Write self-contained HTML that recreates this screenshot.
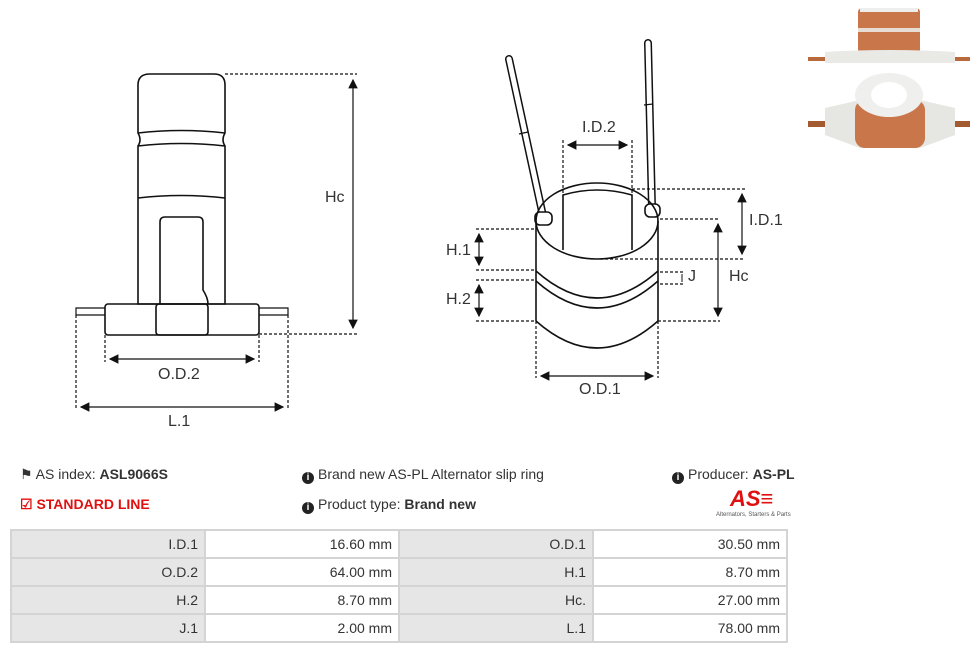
<!DOCTYPE html>
<html><head><meta charset="utf-8"><style>
body{margin:0;width:976px;height:653px;background:#fff;font-family:"Liberation Sans",sans-serif;overflow:hidden;position:relative}
.t{position:absolute;font-size:14px;color:#333;white-space:nowrap}
table{position:absolute;left:10px;top:529px;border-collapse:collapse;width:778px}
td{border:2px solid #d4d4d4;height:24px;font-size:14px;color:#333;text-align:right;padding:0 6px;width:181px}
td.g{background:#e6e6e6}
.i{display:inline-block;width:12px;height:12px;border-radius:6px;background:#222;color:#fff;font-size:10px;font-weight:bold;text-align:center;line-height:12px;vertical-align:-1px;margin-right:4px}
</style></head><body>
<svg width="976" height="450" style="position:absolute;left:0;top:0" fill="none" stroke="#111" stroke-width="1.6">
<defs>
<marker id="e" markerWidth="8" markerHeight="8" refX="7" refY="4" orient="auto"><path d="M0,0L8,4L0,8z" fill="#111" stroke="none"/></marker>
<marker id="s" markerWidth="8" markerHeight="8" refX="1" refY="4" orient="auto"><path d="M8,0L0,4L8,8z" fill="#111" stroke="none"/></marker>
</defs>
<!-- left part -->
<path d="M138,85 Q138,74 150,74 L214,74 Q225,74 225,85 L225,133 Q221,140 225,146 L225,304 L138,304 L138,146 Q142,140 138,133 Z"/>
<path d="M138,133 Q181,128 225,133 M138,146 Q181,141 225,146 M138,198 Q181,193 225,198"/>
<path d="M160,304 L160,222 Q160,217 165,217 L198,217 Q203,217 203,222 L203,290 Q208,298 208,304"/>
<rect x="105" y="304" width="154" height="31" rx="3"/>
<rect x="156" y="304" width="52" height="31" rx="3"/>
<path d="M105,308 L76,308 L76,315 L105,315 M259,308 L288,308 L288,315 L259,315" stroke-width="1.2"/>
<g stroke-dasharray="3,2" stroke-width="1.2">
<path d="M225,74 L357,74 M259,334 L357,334 M105,335 L105,362 M259,335 L259,362 M76,315 L76,410 M288,315 L288,410"/>
</g>
<g marker-start="url(#s)" marker-end="url(#e)" stroke-width="1.2">
<path d="M353,80 L353,328"/><path d="M110,359 L254,359"/><path d="M81,407 L283,407"/>
</g>
<!-- right part -->
<path d="M509,59 L543,216" stroke-width="8" stroke-linecap="round"/>
<path d="M509,59 L543,216" stroke="#fff" stroke-width="5" stroke-linecap="round"/>
<path d="M648,43 L652,208" stroke-width="8" stroke-linecap="round"/>
<path d="M648,43 L652,208" stroke="#fff" stroke-width="5" stroke-linecap="round"/>
<path d="M519,134 L528,132 M644,105 L653,104" stroke-width="1.2"/>
<rect x="535" y="212" width="17" height="13" rx="5" fill="#fff"/>
<rect x="645" y="204" width="15" height="13" rx="5" fill="#fff"/>
<ellipse cx="597" cy="221" rx="61" ry="38"/>
<path d="M563,250 L563,195 Q597,185 632,195 L632,250"/>
<path d="M536,221 L536,321 M658,221 L658,321"/>
<path d="M536,271 Q597,325 658,271 M536,281 Q597,335 658,281 M536,321 Q597,375 658,321"/>
<g stroke-dasharray="3,2" stroke-width="1.2">
<path d="M563,140 L563,195 M632,140 L632,195 M632,189 L745,189 M600,259 L745,259 M660,219 L720,219 M658,321 L720,321 M476,229 L536,229 M476,270 L536,270 M476,280 L536,280 M476,321 L536,321 M660,272 L683,272 M660,284 L683,284 M536,321 L536,378 M658,321 L658,378"/>
</g>
<g marker-start="url(#s)" marker-end="url(#e)" stroke-width="1.2">
<path d="M568,145 L627,145"/><path d="M742,194 L742,254"/><path d="M718,224 L718,316"/><path d="M479,234 L479,265"/><path d="M479,285 L479,316"/><path d="M541,376 L653,376"/>
</g>
<path d="M682,274 L682,282" stroke-width="1"/>
<!-- photo -->
<g stroke="none">
<rect x="858" y="8" width="62" height="46" rx="4" fill="#c9774a"/>
<rect x="858" y="28" width="62" height="4" fill="#e8ddd5"/>
<rect x="860" y="8" width="58" height="4" fill="#eee"/>
<path d="M808,57 L970,57 L970,61 L808,61Z" fill="#b86a3c"/>
<path d="M825,52 Q890,48 955,52 L955,63 L825,63Z" fill="#e9e9e6"/>
<path d="M808,121 L970,121 L970,127 L808,127Z" fill="#a45a30"/>
<path d="M825,108 L860,100 L920,100 L955,108 L955,135 L920,148 L860,148 L825,135Z" fill="#e6e6e2"/>
<rect x="855" y="100" width="70" height="48" rx="10" fill="#c9774a"/>
<ellipse cx="889" cy="95" rx="34" ry="22" fill="#efefed"/>
<ellipse cx="889" cy="95" rx="18" ry="13" fill="#fff"/>
</g>
</svg>
<div class="t" style="left:325px;top:189px;font-size:16px">Hc</div>
<div class="t" style="left:158px;top:366px;font-size:16px">O.D.2</div>
<div class="t" style="left:168px;top:413px;font-size:16px">L.1</div>
<div class="t" style="left:582px;top:119px;font-size:16px">I.D.2</div>
<div class="t" style="left:749px;top:212px;font-size:16px">I.D.1</div>
<div class="t" style="left:729px;top:268px;font-size:16px">Hc</div>
<div class="t" style="left:688px;top:268px;font-size:16px">J</div>
<div class="t" style="left:446px;top:242px;font-size:16px">H.1</div>
<div class="t" style="left:446px;top:291px;font-size:16px">H.2</div>
<div class="t" style="left:579px;top:381px;font-size:16px">O.D.1</div>

<div class="t" style="left:20px;top:466px">&#9873; AS index: <b>ASL9066S</b></div>
<div class="t" style="left:20px;top:496px;color:#e01010;font-weight:bold">&#9745; STANDARD LINE</div>
<div class="t" style="left:302px;top:466px"><span class="i">i</span>Brand new AS-PL Alternator slip ring</div>
<div class="t" style="left:302px;top:496px"><span class="i">i</span>Product type: <b>Brand new</b></div>
<div class="t" style="left:672px;top:466px"><span class="i">i</span>Producer: <b>AS-PL</b></div>
<div class="t" style="left:730px;top:486px;color:#e01010;font-weight:bold;font-style:italic;font-size:22px">AS&#8801;</div>
<div class="t" style="left:716px;top:512px;font-size:6px;color:#555">Alternators, Starters &amp; Parts</div>
<table>
<tr><td class="g">I.D.1</td><td>16.60 mm</td><td class="g">O.D.1</td><td>30.50 mm</td></tr>
<tr><td class="g">O.D.2</td><td>64.00 mm</td><td class="g">H.1</td><td>8.70 mm</td></tr>
<tr><td class="g">H.2</td><td>8.70 mm</td><td class="g">Hc.</td><td>27.00 mm</td></tr>
<tr><td class="g">J.1</td><td>2.00 mm</td><td class="g">L.1</td><td>78.00 mm</td></tr>
</table>
<style>td{height:24px;line-height:24px}tr{height:28px}</style>
</body></html>
